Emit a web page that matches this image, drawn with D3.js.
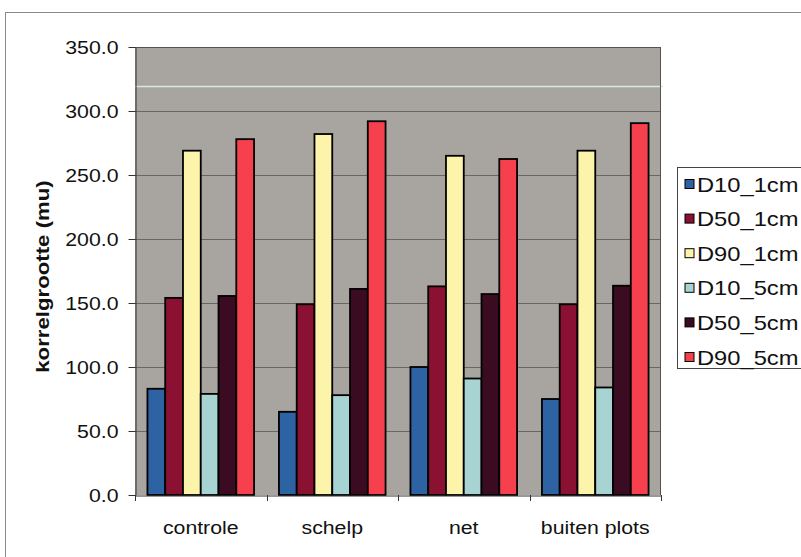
<!DOCTYPE html>
<html>
<head>
<meta charset="utf-8">
<script src="https://cdn.jsdelivr.net/npm/d3@7"></script>
<style>
  html, body { margin: 0; padding: 0; background: #ffffff; }
  svg { display: block; }
  text { font-family: "Liberation Sans", Arial, sans-serif; fill: #111; }
</style>
</head>
<body>
<div id="chart"></div>
<script>
const categories = ["controle", "schelp", "net", "buiten plots"];
const seriesNames = ["D10_1cm", "D50_1cm", "D90_1cm", "D10_5cm", "D50_5cm", "D90_5cm"];
const D10_1cm = [83, 65, 100, 75];
const D50_1cm = [154, 149, 163, 149];
const D90_1cm = [269, 282, 265, 269];
const D10_5cm = [79, 78, 91, 84];
const D50_5cm = [155.5, 161, 157, 163.5];
const D90_5cm = [278, 292, 262.5, 290.5];
const seriesColors = ["#2d62a3", "#8a1131", "#fdf4ac", "#a7d3d3", "#3b0b22", "#f7404d"];
const yTicks = [0, 50, 100, 150, 200, 250, 300, 350];
const yTitle = "korrelgrootte (mu)";

const seriesValues = [D10_1cm, D50_1cm, D90_1cm, D10_5cm, D50_5cm, D90_5cm];

const W = 801, H = 557;
const plot = { left: 135, top: 47, right: 661, bottom: 495 };
const SX = 1.12; // horizontal stretch of the scanned lettering

const svg = d3.select("#chart").append("svg").attr("width", W).attr("height", H);

// outer chart frame
svg.append("rect").attr("x", 5.5).attr("y", 12.5).attr("width", 830).attr("height", 580)
  .attr("fill", "#fff").attr("stroke", "#8a8a8a").attr("stroke-width", 1);

const x0 = d3.scaleBand().domain(categories).range([plot.left, plot.right]).padding(0);
const x1 = d3.scaleBand().domain(seriesNames).range([0, x0.bandwidth()]).paddingInner(0).paddingOuter(0.7);
const y = d3.scaleLinear().domain([0, 350]).range([plot.bottom, plot.top]);

// plot background
svg.append("rect").attr("x", plot.left).attr("y", plot.top)
  .attr("width", plot.right - plot.left).attr("height", plot.bottom - plot.top)
  .attr("fill", "#a8a4a0");

// gridlines
svg.append("g").selectAll("line").data(yTicks.filter(d => d > 0)).join("line")
  .attr("x1", plot.left).attr("x2", plot.right)
  .attr("y1", d => Math.round(y(d)) + 0.5).attr("y2", d => Math.round(y(d)) + 0.5)
  .attr("stroke", "#6a6662").attr("stroke-width", 1);

// scan artifact light line
svg.append("line").attr("x1", plot.left).attr("x2", plot.right + 2)
  .attr("y1", 86.5).attr("y2", 86.5).attr("stroke", "#d6e9dc").attr("stroke-width", 1.3);

// plot border (top/right)
svg.append("path")
  .attr("d", `M${plot.left},${plot.top + 0.5}H${plot.right - 0.5}V${plot.bottom}`)
  .attr("fill", "none").attr("stroke", "#55524f").attr("stroke-width", 1);

// bars
const groups = svg.append("g").selectAll("g").data(categories).join("g")
  .attr("transform", d => `translate(${x0(d)},0)`);
groups.selectAll("rect").data((c, ci) => seriesNames.map((s, si) => ({ s, si, v: seriesValues[si][ci] })))
  .join("rect")
  .attr("x", d => x1(d.s))
  .attr("y", d => y(d.v))
  .attr("width", x1.bandwidth())
  .attr("height", d => y(0) - y(d.v))
  .attr("fill", d => seriesColors[d.si])
  .attr("stroke", "#000").attr("stroke-width", 1.8);

function stretch(sel, sx) {
  sel.each(function () {
    const t = d3.select(this);
    const xv = +t.attr("x") || 0;
    t.attr("x", xv / sx).attr("transform", `scale(${sx},1)`);
  });
}

// y axis
const yAxis = svg.append("g").attr("transform", `translate(${plot.left + 0.5},0)`)
  .call(d3.axisLeft(y).tickValues(yTicks).tickFormat(d3.format(".1f")).tickSize(7).tickSizeOuter(0).tickPadding(10));
yAxis.select(".domain").attr("stroke", "#333");
yAxis.selectAll(".tick line").attr("stroke", "#333");
yAxis.selectAll(".tick text").attr("font-size", "19px").attr("fill", "#111")
  .style("font-family", "'Liberation Sans', Arial, sans-serif").call(stretch, SX);

// x axis
const xAxis = svg.append("g").attr("transform", `translate(0,${plot.bottom + 0.5})`)
  .call(d3.axisBottom(x0).tickSize(0).tickPadding(25));
xAxis.select(".domain").attr("stroke", "#333");
xAxis.selectAll(".tick text").attr("font-size", "19px").attr("fill", "#111")
  .style("font-family", "'Liberation Sans', Arial, sans-serif").call(stretch, SX);
// boundary tick marks
const bounds = categories.map(c => x0(c)).concat([plot.right]);
svg.append("g").selectAll("line").data(bounds).join("line")
  .attr("x1", d => Math.round(d) + 0.5).attr("x2", d => Math.round(d) + 0.5)
  .attr("y1", plot.bottom).attr("y2", plot.bottom + 6)
  .attr("stroke", "#333").attr("stroke-width", 1);

// y title
svg.append("text")
  .attr("transform", `translate(49,${(180 + 373) / 2}) rotate(-90) scale(1.17,1)`)
  .attr("text-anchor", "middle")
  .attr("font-size", "19px").attr("font-weight", "bold")
  .text(yTitle);

// legend
const lg = svg.append("g");
lg.append("rect").attr("x", 677.5).attr("y", 167.5).attr("width", 160).attr("height", 201)
  .attr("fill", "#fff").attr("stroke", "#444").attr("stroke-width", 1);
const items = lg.selectAll("g.item").data(seriesNames).join("g").attr("class", "item")
  .attr("transform", (d, i) => `translate(0,${184 + i * 34.6})`);
items.append("rect").attr("x", 685).attr("y", -4.5).attr("width", 9).attr("height", 9)
  .attr("fill", (d, i) => seriesColors[i]).attr("stroke", "#000").attr("stroke-width", 1);
items.append("text").attr("x", 697).attr("dy", "0.36em")
  .attr("font-size", "21px").text(d => d).call(stretch, 1.13);
</script>
</body>
</html>
